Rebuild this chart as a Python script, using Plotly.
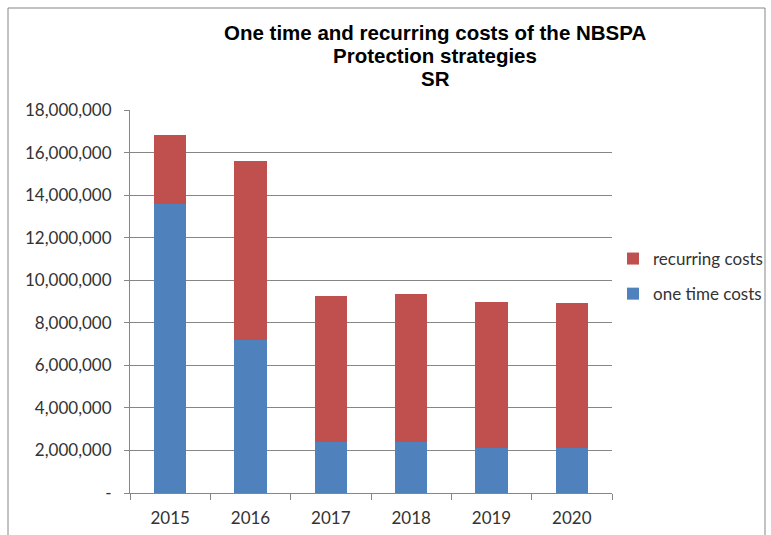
import plotly.graph_objects as go

years = ["2015", "2016", "2017", "2018", "2019", "2020"]
one_time = [13580000, 7170000, 2410000, 2410000, 2120000, 2120000]
recurring = [3230000, 8450000, 6870000, 6930000, 6880000, 6800000]
y_ticks = [0, 2000000, 4000000, 6000000, 8000000, 10000000, 12000000, 14000000, 16000000, 18000000]
y_tick_text = ["-"] + [f"{v:,}" for v in y_ticks[1:]]
title_lines = ["One time and recurring costs of the NBSPA", "Protection strategies", "SR"]

W, H = 771, 535
L, R, T, B = 130, 159, 110, 42
PW, PH = W - L - R, H - T - B

fig = go.Figure()
fig.add_trace(go.Bar(x=years, y=one_time, name="one time costs", legendgroup="b", legendrank=2,
                     marker=dict(color="#4F81BD", line=dict(width=0))))
fig.add_trace(go.Bar(x=years, y=recurring, name="recurring costs", legendgroup="a", legendrank=1,
                     marker=dict(color="#C0504D", line=dict(width=0))))

tick_font = dict(family="Lato, Open Sans, sans-serif", size=17, color="#333333")

annotations = []
for i, line in enumerate(title_lines):
    annotations.append(dict(
        text=f"<b>{line}</b>", xref="paper", yref="paper",
        x=(435 - L) / PW, y=1 + (T - (32 + 23 * i)) / PH,
        xanchor="center", yanchor="middle", showarrow=False,
        font=dict(family="Liberation Sans, Arial, sans-serif", size=20.5, color="black")))

fig.update_layout(
    width=W, height=H, barmode="stack", bargap=0.6,
    margin=dict(l=L, r=R, t=T, b=B, autoexpand=False),
    paper_bgcolor="white", plot_bgcolor="white",
    font=dict(family="Lato, Open Sans, sans-serif", size=16, color="#333333"),
    showlegend=True,
    legend=dict(traceorder="grouped", xref="container", yref="container",
                x=613 / W, y=1 - 241 / H, xanchor="left", yanchor="top",
                font=dict(family="Lato, Open Sans, sans-serif", size=17, color="#333333"),
                itemwidth=30, tracegroupgap=10, bgcolor="rgba(0,0,0,0)"),
    xaxis=dict(showline=True, linecolor="#868686", linewidth=1, ticks="outside",
               tickson="boundaries", ticklen=6, tickcolor="#868686",
               ticklabelstandoff=10, tickfont=tick_font, showgrid=False),
    yaxis=dict(range=[0, 18000000], tickvals=y_ticks, ticktext=y_tick_text,
               showline=True, linecolor="#868686", linewidth=1, ticks="outside",
               ticklen=5, tickcolor="#868686", showgrid=True, gridcolor="#868686",
               gridwidth=1, tickfont=tick_font, zeroline=False, ticklabelstandoff=9),
    annotations=annotations,
    shapes=[dict(type="rect", xref="paper", yref="paper",
                 x0=(8 - L) / PW, x1=(765 - L) / PW,
                 y0=-(B + 20) / PH, y1=1 + (T - 8) / PH,
                 line=dict(color="#868686", width=1))],
)

fig.write_html("out.html")
